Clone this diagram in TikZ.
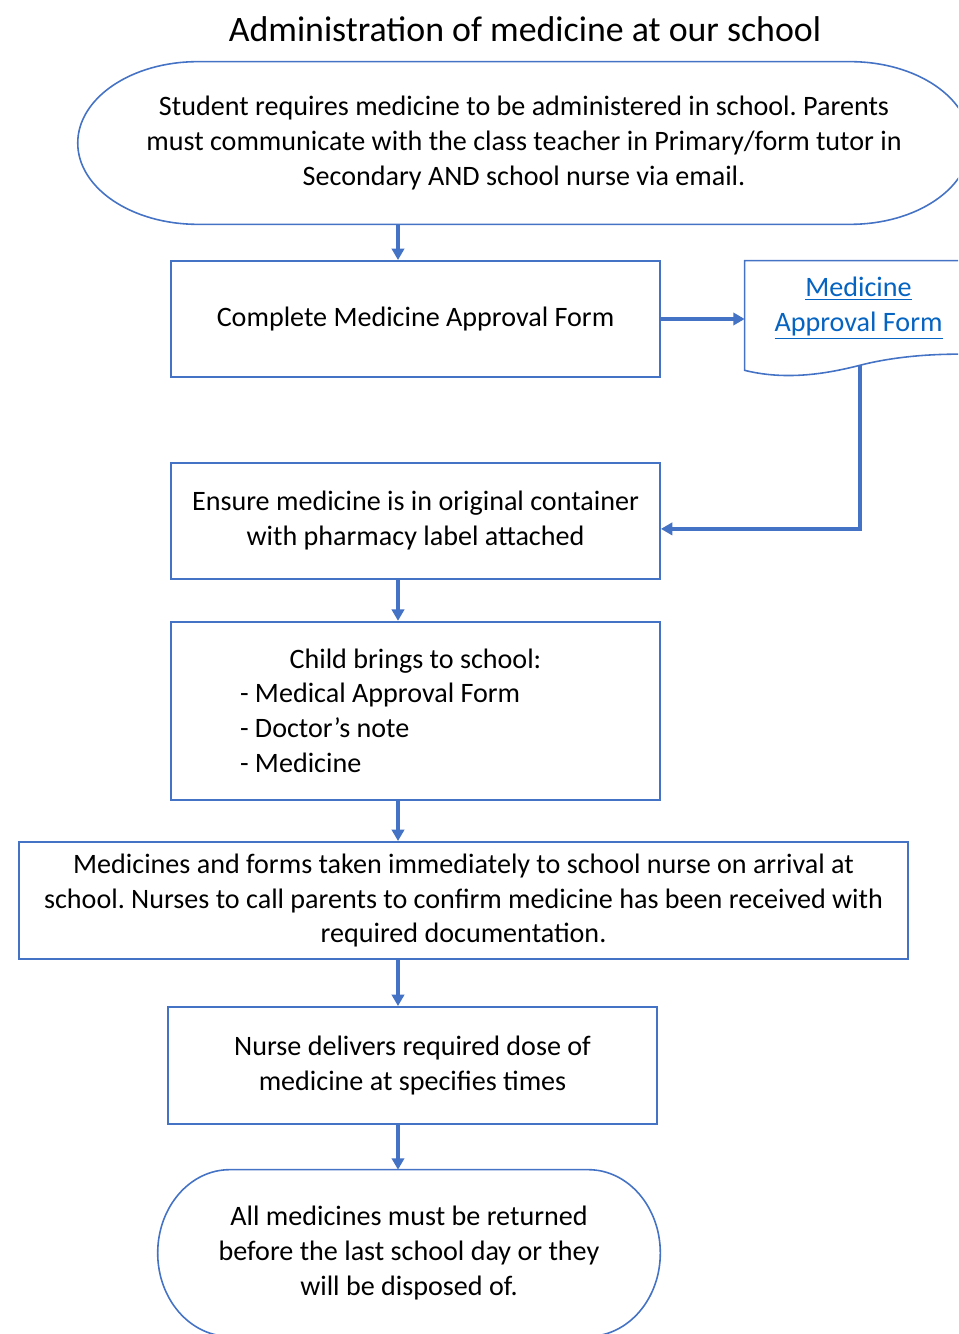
\documentclass[tikz,border=0pt]{standalone}
\usepackage{fontspec}
\setmainfont{Carlito}
\usepackage{tikz}
\usetikzlibrary{arrows.meta, positioning, calc}
\definecolor{bordure}{HTML}{4472C4}
\definecolor{lienbleu}{HTML}{0563C1}
\newcommand\corps{\fontsize{16}{19.9}\selectfont}
\frenchspacing
\tikzset{
  boite/.style={rectangle, draw=bordure, line width=1.1pt, fill=white,
    text=black, font=\corps, align=center, minimum width=9.78cm,
    minimum height=2.32cm, inner sep=1mm},
  terminal/.style={rectangle, text=black, font=\corps, align=center,
    inner sep=0pt},
  feuille/.style={rectangle, text=lienbleu, font=\corps, align=center,
    minimum width=4.54cm, minimum height=1.9cm, inner sep=0pt},
  contour/.style={draw=bordure, line width=0.9pt},
  fleche/.style={-{Triangle[length=6.5pt, width=7pt]}, line width=2.1pt,
    color=bordure},
  titre/.style={font=\fontsize{20.4}{24}\selectfont, text=black}
}
% contour arrondi (ellipse aux deux bouts) autour d'un noeud terminal
\newcommand\contourterminal[2]{%
  \draw[contour] let \p1=(#1.north east), \p2=(#1.south west),
      \n1={0.5*(\y1-\y2)} in
    ({\x2+#2},\y1) -- ({\x1-#2},\y1)
    arc[start angle=90, end angle=-90, x radius=#2, y radius={\n1*1pt}]
    -- ({\x2+#2},\y2)
    arc[start angle=270, end angle=90, x radius=#2, y radius={\n1*1pt}]
    -- cycle;}

\begin{document}
\begin{tikzpicture}[x=0.02cm, y=-0.02cm]
    \useasboundingbox (0,0) rectangle (958,1334);
    \clip (0,0) rectangle (958,1334);
    \coordinate (axe) at (398,0);

    \node[titre] (titre) at (525,29) {Administration of medicine at our school};
    \node[terminal, minimum width=17.84cm, minimum height=3.24cm] (demande) at (524,143)
      {Student requires medicine to be administered in school. Parents\\
       must communicate with the class teacher in Primary/form tutor in\\
       Secondary AND school nurse via email.};
    \node[boite] (approbation) at (415.5,319) {Complete Medicine Approval Form};
    \node[feuille] (formulaire) at (858.5,308.5)
      {\underline{Medicine}\\ \underline{Approval Form}};
    \node[boite, below=1.68cm of approbation] (contenant)
      {Ensure medicine is in original container\\ with pharmacy label attached};
    \node[boite, below=0.82cm of contenant, minimum height=3.56cm, align=left,
      text width=7.02cm, inner xsep=1.38cm] (apport)
      {\spaceskip=0pt\xspaceskip=0pt{\centering Child brings to school:\par}
       - Medical Approval Form\\ - Doctor’s note\\ - Medicine};
    \node[boite, minimum width=17.78cm, minimum height=2.34cm] (infirmerie) at (463.5,900.5)
      {Medicines and forms taken immediately to school nurse on arrival at\\
       school. Nurses to call parents to confirm medicine has been received with\\
       required documentation.};
    \node[boite, minimum height=2.34cm] (dose) at (412.5,1065.5)
      {Nurse delivers required dose of\\ medicine at specifies times};
    \node[terminal, minimum width=10.04cm, minimum height=3.32cm] (retour) at (409,1253)
      {All medicines must be returned\\ before the last school day or they\\
       will be disposed of.};

    \contourterminal{demande}{2.4cm}
    \contourterminal{retour}{1.44cm}
    \draw[contour] (formulaire.north west) -- (formulaire.north east)
      -- ($(formulaire.south east)+(0,-2)$)
      .. controls ($(formulaire.south west)+(190,-3)$) and ($(formulaire.south west)+(150,0)$)
      .. ($(formulaire.south west)+(115,9)$) coordinate (pied)
      .. controls ($(formulaire.south west)+(80,18)$) and ($(formulaire.south west)+(40,24)$)
      .. ($(formulaire.south west)+(0,14)$) -- cycle;

    \draw[fleche] (demande.south -| axe) -- (approbation.north -| axe);
    \draw[fleche] (approbation.east) -- (approbation.east -| formulaire.west);
    \draw[fleche] (pied) |- ($(contenant.east)+(0,8)$);
    \draw[fleche] (contenant.south -| axe) -- (apport.north -| axe);
    \draw[fleche] (apport.south -| axe) -- (infirmerie.north -| axe);
    \draw[fleche] (infirmerie.south -| axe) -- (dose.north -| axe);
    \draw[fleche] (dose.south -| axe) -- (retour.north -| axe);
\end{tikzpicture}
\end{document}
